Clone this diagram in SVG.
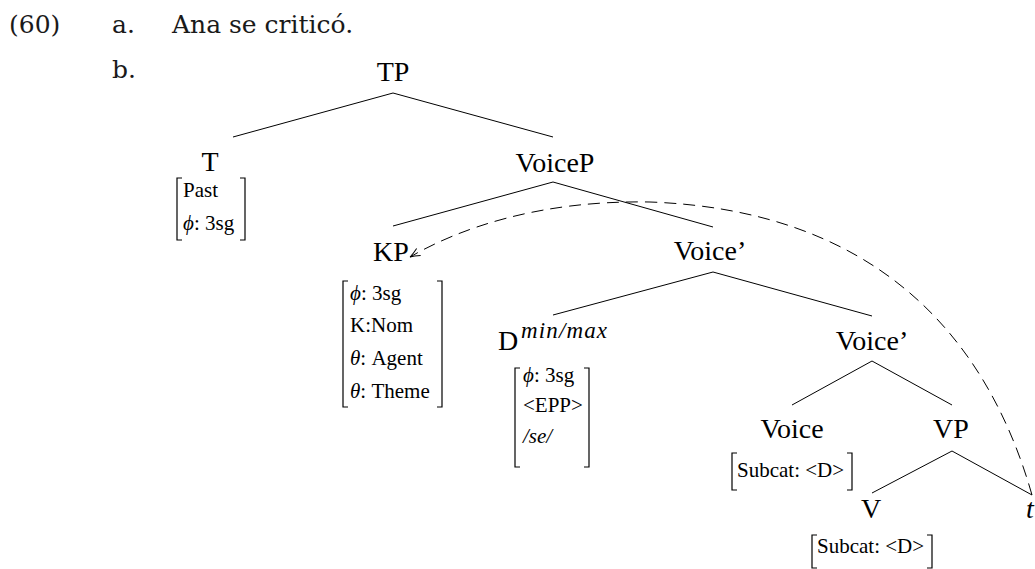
<svg xmlns="http://www.w3.org/2000/svg" width="1035" height="569" viewBox="0 0 1035 569">
<style>
.hd{font-size:25px;fill:#1a1a1a}
.lb{font-size:28px;fill:#000;text-anchor:middle}
.ft{font-size:21px;fill:#000}
.it{font-style:italic}
.br{fill:none;stroke:#000;stroke-width:1.2}
.edge{fill:none;stroke:#000;stroke-width:1}
.mv{fill:none;stroke:#000;stroke-width:1;stroke-dasharray:12 7}
</style>
<defs>
<marker id="arr" viewBox="-12 -6 14 12" refX="0" refY="0" markerWidth="14" markerHeight="12" markerUnits="userSpaceOnUse" orient="auto">
<path d="M-10,-4 Q-4,-1 0,0 Q-4,1 -10,4" fill="none" stroke="#000" stroke-width="1"/>
</marker>
</defs>
<rect width="1035" height="569" fill="#fff"/>
<g id="header">
<text class="hd" font-family="'DejaVu Serif', serif" x="9" y="33">(60)</text>
<text class="hd" font-family="'DejaVu Serif', serif" x="112" y="33">a.</text>
<text class="hd" font-family="'DejaVu Serif', serif" x="172" y="33">Ana se criticó.</text>
<text class="hd" font-family="'DejaVu Serif', serif" x="112" y="78">b.</text>
</g>
<g id="connectors">
<line class="edge" x1="393" y1="93" x2="233" y2="137"/>
<line class="edge" x1="393" y1="93" x2="553" y2="137"/>
<line class="edge" x1="553" y1="182" x2="393" y2="226"/>
<line class="edge" x1="553" y1="182" x2="713" y2="227"/>
<line class="edge" x1="713" y1="272" x2="553" y2="315"/>
<line class="edge" x1="713" y1="272" x2="872" y2="316"/>
<line class="edge" x1="872" y1="361" x2="792" y2="405"/>
<line class="edge" x1="872" y1="361" x2="952" y2="405"/>
<line class="edge" x1="952" y1="451" x2="872" y2="493"/>
<line class="edge" x1="952" y1="451" x2="1032" y2="495"/>
<path class="mv" d="M1032,495 C985,330 870,210 650,202 C540,200 460,228 410,257" marker-end="url(#arr)"/>
</g>
<g id="TP"><text class="lb" font-family="'Liberation Serif', serif" x="393" y="81">TP</text></g>
<g id="T">
<text class="lb" font-family="'Liberation Serif', serif" x="210" y="171">T</text>
<path class="br" d="M182,178 H177 V240 H182 M240,178 H245 V240 H240"/>
<text class="ft" font-family="'Liberation Serif', serif" x="183" y="197">Past</text>
<text class="ft" font-family="'Liberation Serif', serif" x="183" y="230"><tspan class="it">ϕ</tspan>: 3sg</text>
</g>
<g id="VoiceP"><text class="lb" font-family="'Liberation Serif', serif" x="555" y="172">VoiceP</text></g>
<g id="KP">
<text class="lb" font-family="'Liberation Serif', serif" x="391" y="261">KP</text>
<path class="br" d="M348,281 H343 V407 H348 M437,281 H442 V407 H437"/>
<text class="ft" font-family="'Liberation Serif', serif" x="350" y="300"><tspan class="it">ϕ</tspan>: 3sg</text>
<text class="ft" font-family="'Liberation Serif', serif" x="350" y="332">K:Nom</text>
<text class="ft" font-family="'Liberation Serif', serif" x="350" y="365"><tspan class="it">θ</tspan>: Agent</text>
<text class="ft" font-family="'Liberation Serif', serif" x="350" y="398"><tspan class="it">θ</tspan>: Theme</text>
</g>
<g id="Voicebar1"><text class="lb" font-family="'Liberation Serif', serif" x="710" y="260">Voice’</text></g>
<g id="D">
<text class="lb" font-family="'Liberation Serif', serif" x="508" y="350">D</text>
<text class="it" font-family="'Liberation Serif', serif" font-size="23" x="521" y="338" textLength="86">min/max</text>
<path class="br" d="M520,368 H515 V467 H520 M584,368 H589 V467 H584"/>
<text class="ft" font-family="'Liberation Serif', serif" x="523" y="382"><tspan class="it">ϕ</tspan>: 3sg</text>
<text class="ft" font-family="'Liberation Serif', serif" x="523" y="412">&lt;EPP&gt;</text>
<text class="ft it" font-family="'Liberation Serif', serif" x="523" y="443">/se/</text>
</g>
<g id="Voicebar2"><text class="lb" font-family="'Liberation Serif', serif" x="872" y="350">Voice’</text></g>
<g id="Voice">
<text class="lb" font-family="'Liberation Serif', serif" x="792" y="438">Voice</text>
<path class="br" d="M737,453 H732 V490 H737 M847,453 H852 V490 H847"/>
<text class="ft" font-family="'Liberation Serif', serif" x="737" y="477">Subcat: &lt;D&gt;</text>
</g>
<g id="VP"><text class="lb" font-family="'Liberation Serif', serif" x="951" y="438">VP</text></g>
<g id="V">
<text class="lb" font-family="'Liberation Serif', serif" x="871" y="518">V</text>
<path class="br" d="M817,535 H812 V568 H817 M927,535 H932 V568 H927"/>
<text class="ft" font-family="'Liberation Serif', serif" x="817" y="553">Subcat: &lt;D&gt;</text>
</g>
<g id="t"><text class="lb it" font-family="'Liberation Serif', serif" x="1030" y="518">t</text></g>
</svg>
